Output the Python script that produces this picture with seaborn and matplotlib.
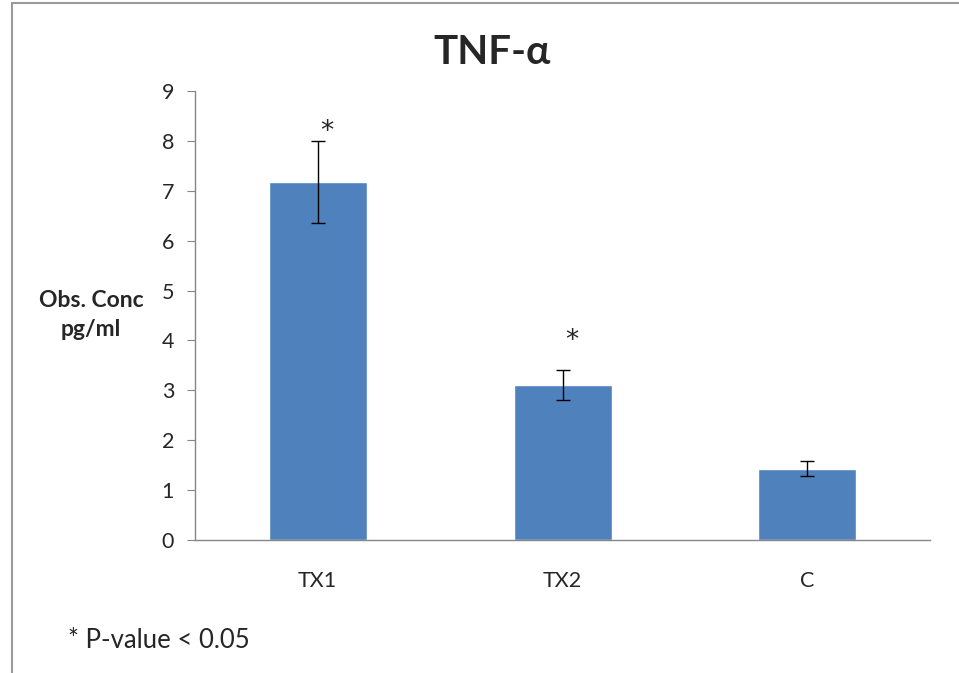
import matplotlib
matplotlib.use('Agg')
import matplotlib.pyplot as plt
from matplotlib.patches import Rectangle
import seaborn as sns

# Data
groups = ['TX1', 'TX2', 'C']
values = [7.17, 3.10, 1.43]
errors = [0.82, 0.30, 0.15]
star_levels = [8.36, 4.17, None]   # height of the '*' marks (None = not significant)
y_ticks = list(range(0, 10))

bar_color = '#4F81BD'
axis_color = '#868686'

sns.set_style('white')
plt.rcParams['font.family'] = ['Lato', 'DejaVu Sans']

fig = plt.figure(figsize=(9.59, 6.73), dpi=100)
ax = fig.add_axes([195 / 959, 1 - 540 / 673, 735 / 959, 449 / 673])

sns.barplot(x=groups, y=values, color=bar_color, width=0.4, saturation=1, ax=ax)
ax.errorbar(x=range(len(groups)), y=values, yerr=errors, fmt='none',
            ecolor='black', elinewidth=1, capsize=5, capthick=1)

# significance stars
for i, s in enumerate(star_levels):
    if s is not None:
        ax.text(i + 0.04, s - 0.12, '*', ha='center', va='center_baseline',
                fontsize=19, family=['DejaVu Sans'])

ax.set_xlim(-0.5, len(groups) - 0.5)
ax.set_ylim(0, 9)
ax.set_yticks(y_ticks)
ax.set_xticks(range(len(groups)))
ax.set_xticklabels(groups)
ax.set_xticks([i - 0.5 for i in range(len(groups) + 1)], minor=True)
ax.tick_params(axis='x', which='major', length=0, pad=22, labelsize=15.5)
ax.tick_params(axis='x', which='minor', length=7, color=axis_color, direction='out')
ax.tick_params(axis='y', length=6, color=axis_color, direction='out', pad=9, labelsize=15.5)
ax.tick_params(axis='both', bottom=True, left=True)

for side in ['top', 'right']:
    ax.spines[side].set_visible(False)
for side in ['left', 'bottom']:
    ax.spines[side].set_color(axis_color)
    ax.spines[side].set_linewidth(1)

ax.set_xlabel('')
ax.set_ylabel('Obs. Conc\npg/ml', rotation=0, fontsize=16.5, fontweight='bold',
              ha='center', va='center', linespacing=1.45)
ax.yaxis.set_label_coords((91 - 195) / 735, (540 - 315) / 449)

fig.text(492 / 959, 1 - 52 / 673, 'TNF-α', ha='center', va='center',
         fontsize=29, fontweight='bold')
fig.text(68 / 959, 1 - 640 / 673, '* P-value < 0.05', ha='left', va='center',
         fontsize=18.5)

# outer chart frame
fig.patches.append(Rectangle((12 / 959, -0.1), 1.2, 1 - 3 / 673 + 0.1,
                             transform=fig.transFigure, fill=False,
                             edgecolor='#9a9a9a', linewidth=1.5))

fig.savefig('out.png', dpi=100)
